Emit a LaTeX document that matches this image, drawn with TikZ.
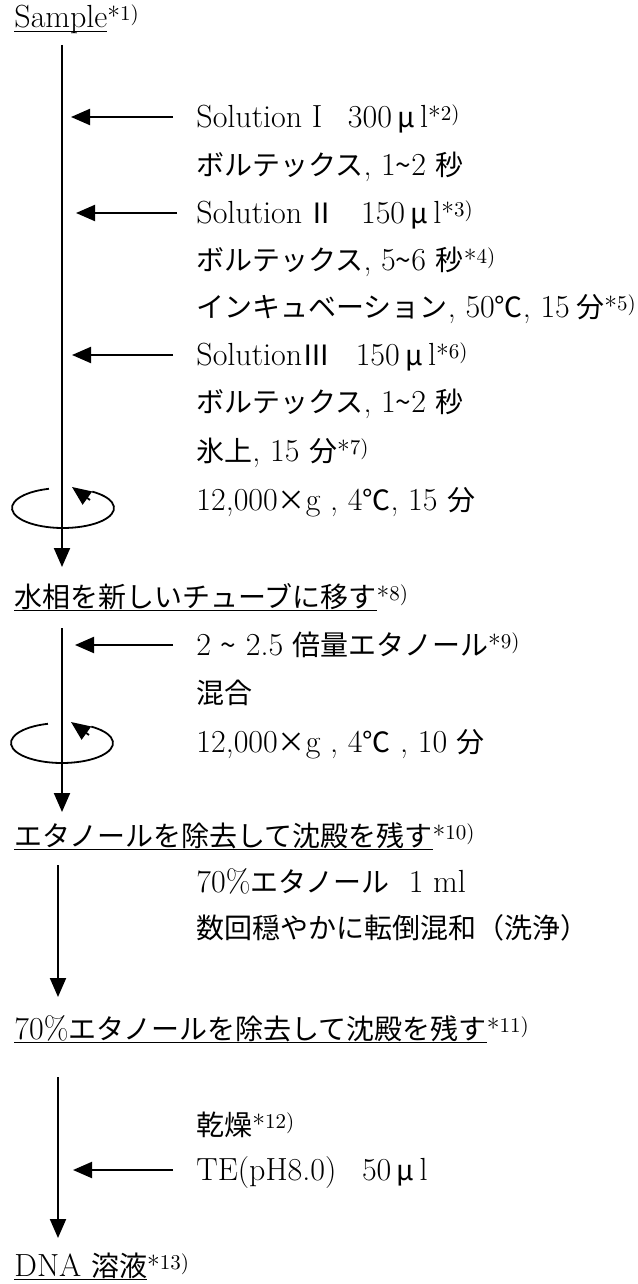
\documentclass[tikz,border=0pt]{standalone}
\usepackage{fontspec}
\newfontfamily\jpf{Noto Sans CJK JP}[Scale=0.875]
\newcommand\jp[1]{{\jpf #1}}
\usetikzlibrary{arrows.meta}
\newcommand\sn[1]{\raisebox{1pt}{\fontsize{13}{13}\selectfont*}\raisebox{3.5pt}{\fontsize{10.5}{11}\selectfont #1)}}
\newcommand\ulx[1]{\setbox0\hbox{#1}\rlap{\rule[-2.2pt]{\wd0}{0.9pt}}\box0}
\newcommand\til{\jp{\char"7E}}
\begin{document}
\begin{tikzpicture}[x=0.5pt,y=0.5pt,
  txt/.style={anchor=base west, inner sep=0pt, font=\fontsize{16}{19}\selectfont},
  flow/.style={line width=1pt, -{Triangle[length=9.5pt,width=8pt]}},
  add/.style={line width=1pt, -{Triangle[length=9.5pt,width=8pt]}},
  spin/.style={line width=0.9pt},
  tip/.style={line width=0.9pt, -{Triangle[length=9.5pt,width=8pt]}}]
\useasboundingbox (0,0) rectangle (637,-1284);

% left-column step labels
\node[txt] (sample) at (14,-28) {\ulx{Sample}\sn{1}};
\node[txt] (phase) at (14,-607) {\ulx{\jp{水相を新しいチューブに移す}}\sn{8}};
\node[txt] (eth) at (14,-846) {\ulx{\jp{エタノールを除去して沈殿を残す}}\sn{10}};
\node[txt] (eth70) at (14,-1039) {\ulx{70\%\jp{エタノールを除去して沈殿を残す}}\sn{11}};
\node[txt] (dna) at (14,-1276) {\ulx{DNA \jp{溶液}}\sn{13}};

% right-column operations
\node[txt] (r1) at (196,-127) {Solution I\hspace{0.8em}300\,\jp{μ}\,l\sn{2}};
\node[txt] (r2) at (196,-175) {\jp{ボルテックス}, 1\til2 \jp{秒}};
\node[txt] (r3) at (196,-223) {Solution\,\jp{Ⅱ}\hspace{0.8em}150\,\jp{μ}\,l\sn{3}};
\node[txt] (r4) at (196,-270) {\jp{ボルテックス}, 5\til6 \jp{秒}\sn{4}};
\node[txt] (r5) at (196,-317) {\jp{インキュベーション}, 50\jp{℃}, 15\hspace{0.2em}\jp{分}\sn{5}};
\node[txt] (r6) at (196,-365) {Solution\jp{Ⅲ}\hspace{0.8em}150\,\jp{μ}\,l\sn{6}};
\node[txt] (r7) at (196,-412) {\jp{ボルテックス}, 1\til2 \jp{秒}};
\node[txt] (r8) at (196,-461) {\jp{氷上}, 15 \jp{分}\sn{7}};
\node[txt] (r9) at (196,-510) {12,000\jp{×}g , 4\jp{℃}, 15 \jp{分}};
\node[txt] (r10) at (196,-655) {2 \til{} 2.5 \jp{倍量エタノール}\sn{9}};
\node[txt] (r11) at (196,-703) {\jp{混合}};
\node[txt] (r12) at (196,-752) {12,000\jp{×}g , 4\jp{℃} , 10 \jp{分}};
\node[txt] (r13) at (196,-892) {70\%\jp{エタノール}\hspace{0.6em}1 ml};
\node[txt] (r14) at (196,-938) {\jp{数回穏やかに転倒混和（洗浄）}};
\node[txt] (r15) at (196,-1135) {\jp{乾燥}\sn{12}};
\node[txt] (r16) at (196,-1180) {TE(pH8.0)\hspace{0.8em}50\,\jp{μ}\,l};

% main flow lines
\coordinate (v1s) at (62,-45);   \coordinate (v1e) at (62,-567);
\coordinate (v2s) at (62,-628);  \coordinate (v2e) at (62,-812);
\coordinate (v3s) at (58,-865);  \coordinate (v3e) at (58,-997);
\coordinate (v4s) at (58,-1077); \coordinate (v4e) at (58,-1238);
\draw[flow] (v1s) -- (v1e);
\draw[flow] (v2s) -- (v2e);
\draw[flow] (v3s) -- (v3e);
\draw[flow] (v4s) -- (v4e);

% additions
\coordinate (h1s) at (173,-117); \coordinate (h1e) at (71,-117);
\coordinate (h2s) at (177,-213); \coordinate (h2e) at (76,-213);
\coordinate (h3s) at (173,-355); \coordinate (h3e) at (72,-355);
\coordinate (h4s) at (173,-645); \coordinate (h4e) at (75,-645);
\coordinate (h5s) at (173,-1170); \coordinate (h5e) at (73,-1170);
\draw[add] (h1s) -- (h1e);
\draw[add] (h2s) -- (h2e);
\draw[add] (h3s) -- (h3e);
\draw[add] (h4s) -- (h4e);
\draw[add] (h5s) -- (h5e);

% centrifugation symbols
\coordinate (s1) at (63,-508);
\coordinate (s2) at (62,-743);
\foreach \c in {s1,s2}{
  \draw[spin] (\c) ++(106:51 and 20) arc[start angle=106,end angle=415,x radius=51,y radius=20];
  \draw[tip] (\c) ++(27,8) -- ++(-18,13);
}
\end{tikzpicture}
\end{document}
